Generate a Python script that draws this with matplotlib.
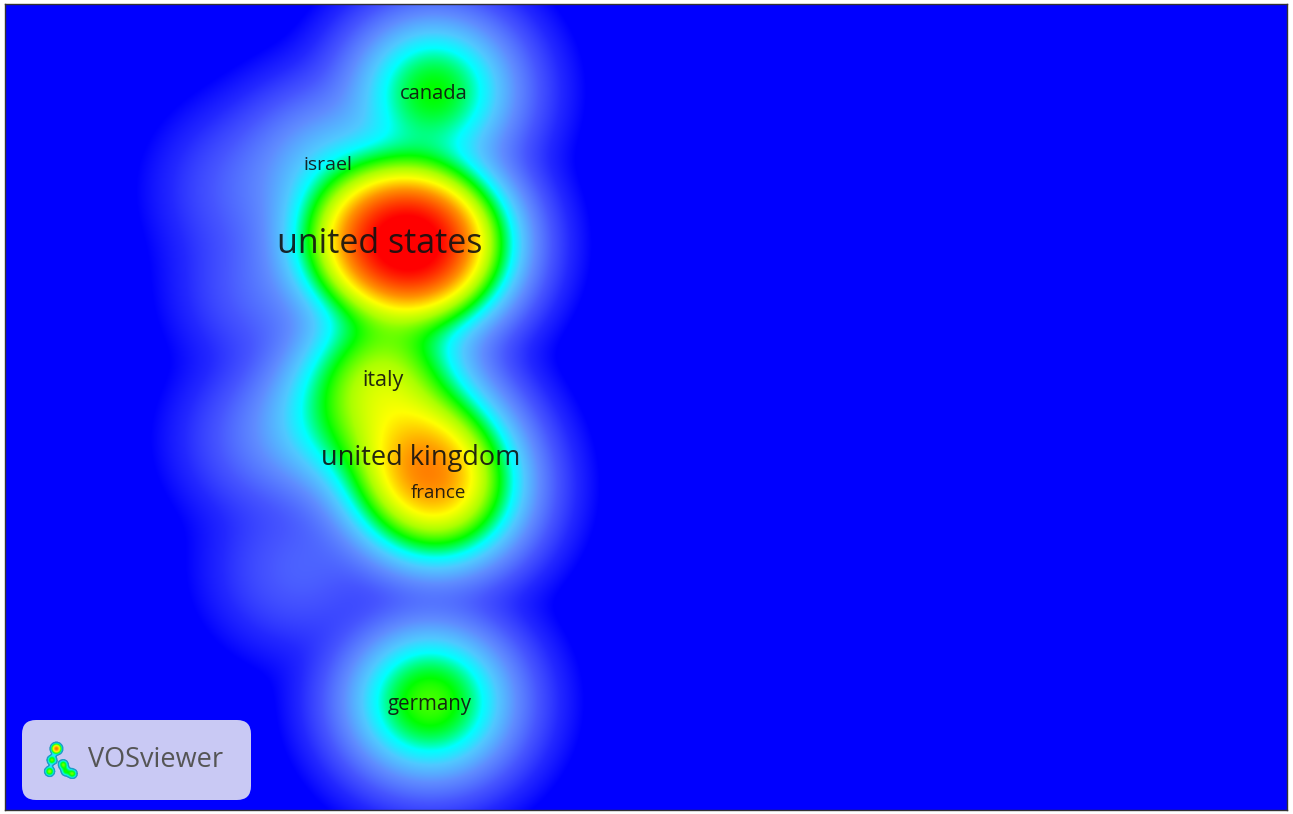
import numpy as np
import matplotlib.pyplot as plt
from matplotlib.colors import LinearSegmentedColormap, LogNorm
from matplotlib.patches import FancyBboxPatch

# items of the density map (pixel coords of the map view), unnamed ones are unlabeled items
LABELS = ["canada", "israel", "united states", "italy", "united kingdom", "france", "germany",
          "", "", "", "", "", ""]
ITEM_X = [434, 328, 380, 383, 421, 438, 430, 420, 340, 270, 270, 300, 250]
ITEM_Y = [92, 163, 240, 378, 455, 491, 702, 245, 420, 440, 290, 570, 190]
WEIGHTS = [0.16, 0.04, 0.47, 0.22, 0.31, 0.32, 0.19, 0.90, 0.08, 0.014, 0.012, 0.01, 0.01]
FONT_SIZES = [14.5, 14, 24.5, 15.5, 19.5, 13.5, 14.8, 0, 0, 0, 0, 0, 0]

# VOSviewer style density colours (density level -> colour)
LEVELS = [0.0003, 0.002, 0.008, 0.025, 0.055, 0.09, 0.16, 0.25, 0.36, 0.53, 1.0]
COLORS = ["#0000ff", "#2328ff", "#4655ff", "#5f8cff", "#50c8ff", "#00ffff", "#00ff00",
          "#aaff00", "#ffff00", "#ff9100", "#ff0000"]

W, H = 1293, 814
X0, X1, Y0, Y1 = 5, 1287, 4, 810
SX, SY = 43, 40


def density():
    xs = np.arange(X0, X1) + 0.5
    ys = np.arange(Y0, Y1) + 0.5
    gx, gy = np.meshgrid(xs, ys)
    d = np.zeros_like(gx)
    for x, y, w in zip(ITEM_X, ITEM_Y, WEIGHTS):
        d += w * np.exp(-((gx - x) ** 2) / (2 * SX ** 2) - ((gy - y) ** 2) / (2 * SY ** 2))
    return d


def logo(fig):
    # little density icon of the VOSviewer logo
    ax = fig.add_axes([38 / W, 1 - 784 / H, 46 / W, 48 / H])
    gx, gy = np.meshgrid(np.linspace(0, 1, 100), np.linspace(0, 1, 100))
    pts = [(0.4, 0.25, 1.0), (0.3, 0.5, 0.35), (0.25, 0.75, 0.4), (0.55, 0.6, 0.35),
           (0.75, 0.8, 0.35), (0.6, 0.75, 0.25)]
    d = sum(w * np.exp(-((gx - x) ** 2 + (gy - y) ** 2) / 0.008) for x, y, w in pts)
    d = np.ma.masked_less(d, 0.08)
    ax.imshow(d * 0.6, cmap=cmap, norm=norm, interpolation="bilinear")
    ax.contour(d.filled(0), levels=[0.08], colors="#1aa0c8", linewidths=1)
    ax.axis("off")


norm = LogNorm(vmin=LEVELS[0], vmax=LEVELS[-1], clip=True)
pos = [float(norm(v)) for v in LEVELS]
cmap = LinearSegmentedColormap.from_list("vos", list(zip(pos, COLORS)), N=2048)

fig = plt.figure(figsize=(W / 100, H / 100), dpi=100)
ax = fig.add_axes([X0 / W, 1 - Y1 / H, (X1 - X0) / W, (Y1 - Y0) / H])
ax.imshow(np.maximum(density(), 1e-6), cmap=cmap, norm=norm, extent=(X0, X1, Y1, Y0),
          interpolation="bilinear", aspect="auto")
ax.set_xlim(X0, X1)
ax.set_ylim(Y1, Y0)
ax.set_xticks([])
ax.set_yticks([])
for s in ax.spines.values():
    s.set_color("#333333")
    s.set_linewidth(1)

for lab, x, y, fs in zip(LABELS, ITEM_X, ITEM_Y, FONT_SIZES):
    if lab:
        ax.text(x, y, lab, fontsize=fs, family="Open Sans", color="#111111",
                ha="center", va="center_baseline", alpha=0.9)

box = FancyBboxPatch((22, 720), 229, 80, boxstyle="round,pad=0,rounding_size=14",
                     facecolor="#c9c9f4", edgecolor="none")
ax.add_patch(box)
ax.text(88, 760, "VOSviewer", fontsize=19.5, family="Open Sans", color="#555555",
        ha="left", va="center")
logo(fig)

fig.savefig("out.png", dpi=100)
